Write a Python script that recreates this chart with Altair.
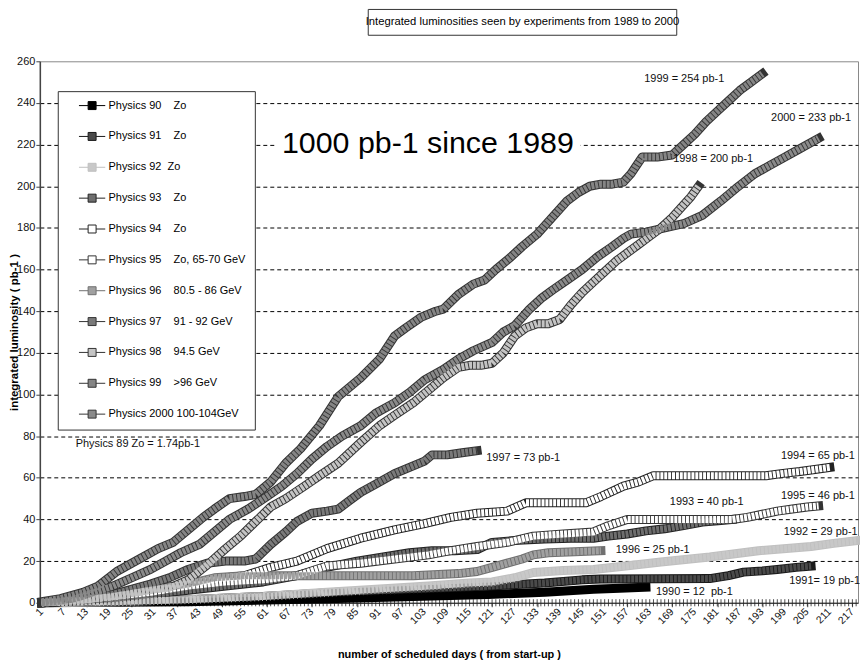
import altair as alt
import pandas as pd

FONT = "Liberation Sans, Arial, sans-serif"
NB = "\u00a0"

series_names = [
    "Physics 90" + NB * 4 + "Zo",
    "Physics 91" + NB * 4 + "Zo",
    "Physics 92" + NB * 2 + "Zo",
    "Physics 93" + NB * 4 + "Zo",
    "Physics 94" + NB * 4 + "Zo",
    "Physics 95" + NB * 4 + "Zo, 65-70 GeV",
    "Physics 96" + NB * 4 + "80.5 - 86 GeV",
    "Physics 97" + NB * 4 + "91 - 92 GeV",
    "Physics 98" + NB * 4 + "94.5 GeV",
    "Physics 99" + NB * 4 + ">96 GeV",
    "Physics 2000 100-104GeV",
]
fill_colors = ["#000000", "#4a4a4a", "#c8c8c8", "#6e6e6e", "#ffffff", "#ffffff",
               "#a0a0a0", "#7a7a7a", "#c4c4c4", "#858585", "#8a8a8a"]
edge_colors = ["#000000", "#1a1a1a", "#c0c0c0", "#222222", "#222222", "#333333",
               "#707070", "#333333", "#333333", "#333333", "#333333"]

d1990 = [1, 40, 80, 100, 120, 135, 148, 155, 162]
v1990 = [0, 0.5, 2, 3, 4, 5, 6.5, 7, 7.5]
d1991 = [1, 20, 40, 60, 80, 100, 120, 135, 145, 150, 165, 179, 184, 188, 193, 197, 202, 206]
v1991 = [0, 0.5, 1.5, 3, 5, 6.5, 8, 9.5, 11, 11.4, 11.5, 11.6, 13, 14.7, 15.3, 16, 17, 17.6]
d1992 = [1, 20, 40, 60, 77, 90, 104, 115, 121, 127, 132, 140, 148, 156, 166, 179, 192, 206, 212, 218]
v1992 = [0, 0.5, 1.5, 3, 5, 6.5, 8, 9.5, 10, 12, 14.5, 15.5, 16, 17.5, 19.6, 22, 25, 27, 28.5, 29.8]
d1993 = [1, 10, 20, 30, 40, 50, 60, 69, 77, 85, 92, 99, 105, 111, 117, 121, 128, 135, 142, 148,
         152, 157, 162, 167, 172, 177, 182, 185]
v1993 = [0, 1, 2, 4, 6, 8, 10, 13, 17, 20, 22, 24, 25, 25, 25.5, 29, 30, 30.6, 31, 31,
         32, 33, 34.5, 35.5, 37, 38.7, 39.5, 40]
d1994 = [1, 10, 20, 30, 40, 50, 55, 62, 69, 77, 86, 95, 103, 110, 117, 125, 130, 138, 146, 150,
         156, 160, 164, 170, 180, 190, 194, 198, 203, 207, 211]
v1994 = [0, 1, 3, 6, 9, 12, 13, 17, 20, 26, 31, 35, 38, 41, 43, 44, 48, 48, 48, 51,
         56, 58, 61, 61, 61, 61, 61, 62, 63, 64, 65]
d1995 = [1, 10, 20, 30, 40, 50, 60, 69, 77, 86, 95, 104, 110, 117, 125, 132, 140, 148, 152, 157,
         165, 175, 185, 189, 193, 197, 201, 205, 208]
v1995 = [0, 1, 3, 5, 8, 10, 11, 13, 17.7, 19, 21, 23, 25, 27, 29, 32, 33, 34, 37, 40,
         40, 40, 40, 41, 42.5, 44, 45, 46, 46.5]
d1996 = [1, 10, 20, 30, 40, 47, 55, 65, 77, 90, 100, 112, 117, 121, 125, 129, 132, 136, 143, 150]
v1996 = [0, 1, 3, 6, 9, 12, 13, 13, 13, 13, 13, 14, 15, 17, 19, 21, 23, 24, 24.5, 25]
d1997 = [1, 10, 20, 30, 35, 40, 45, 50, 55, 58, 62, 66, 69, 73, 77, 80, 83, 86, 90, 95, 99,
         103, 105, 109, 113, 117]
v1997 = [0, 1, 4, 9, 12, 16, 19, 20, 20, 21, 28, 34, 39, 43, 44, 45, 49, 53, 57, 62, 65,
         68, 71, 71, 72, 73]
d1998 = [1, 10, 20, 30, 35, 40, 45, 50, 54, 58, 62, 66, 71, 75, 80, 86, 91, 95, 100, 104, 108,
         112, 115, 118, 121, 124, 127, 130, 133, 136, 139, 142, 145, 148, 151, 154, 157, 160,
         163, 166, 169, 172, 174, 176]
v1998 = [0, 1, 3, 6, 7, 11, 18, 26, 32, 39, 46, 50, 56, 61, 67, 77, 85, 90, 96, 102, 108,
         113, 114, 114, 115, 120, 128, 132, 134, 134, 136, 143, 149, 154, 159, 164, 168, 172,
         176, 180, 185, 191, 195, 200]
d1999 = [1, 6, 12, 16, 21, 27, 32, 36, 40, 44, 47, 51, 55, 58, 62, 66, 70, 75, 80, 86, 91, 95,
         98, 102, 106, 108, 112, 116, 119, 122, 126, 129, 133, 137, 141, 144, 147, 150, 153,
         156, 158, 161, 165, 169, 172, 175, 178, 181, 184, 187, 190, 193]
v1999 = [0.5, 2, 5, 8, 15, 21, 26, 29, 35, 41, 45, 50, 51, 52, 58, 67, 74, 85, 99, 108, 117, 128,
         132, 137, 140, 141, 148, 153, 155, 160, 166, 171, 177, 185, 193, 197, 200, 201, 201,
         202, 206, 214, 214, 215, 220, 225, 231, 236, 241, 246, 250, 254]
d2000 = [1, 5, 10, 15, 20, 25, 30, 34, 38, 43, 47, 51, 56, 61, 65, 69, 73, 77, 81, 86, 90, 95,
         99, 103, 108, 112, 116, 121, 124, 127, 131, 134, 137, 141, 145, 149, 153, 156, 158,
         162, 167, 172, 177, 182, 186, 191, 195, 199, 203, 208]
v2000 = [0, 0.5, 2, 5, 8, 12, 16, 20, 24, 28, 34, 40, 45, 51, 56, 62, 69, 75, 80, 85, 91, 96,
         101, 107, 112, 117, 121, 125, 130, 133, 141, 146, 150, 155, 160, 166, 171, 175, 177,
         178, 180, 182, 186, 193, 199, 206, 210, 214, 218, 223]

series_days = [d1990, d1991, d1992, d1993, d1994, d1995, d1996, d1997, d1998, d1999, d2000]
series_vals = [v1990, v1991, v1992, v1993, v1994, v1995, v1996, v1997, v1998, v1999, v2000]

day_ticks = list(range(1, 219))          # one small tick per scheduled day
label_ticks = list(range(1, 218, 6))     # labelled days 1, 7, 13, ... 217
y_ticks = list(range(0, 261, 20))

# annotations (text, day, value)
lab_center = ["1999 = 254 pb-1", "2000 = 233 pb-1", "1998 = 200 pb-1", "1997 = 73 pb-1",
              "1994 = 65 pb-1", "1993 = 40 pb-1", "1995 = 46 pb-1", "1996 = 25 pb-1",
              "1991= 19 pb-1", "1990 = 12" + NB + " pb-1", "Physics 89 Zo = 1.74pb-1"]
lab_center_day = [172.2, 206, 179.9, 129.3, 207.8, 178.2, 207.8, 163.8, 209.6, 174.9, 26.6]
lab_center_val = [251.3, 232.8, 213.2, 69.6, 70.4, 48.4, 51.3, 25.5, 10.2, 5.1, 76]
lab_right = ["1992 = 29 pb-1"]
lab_right_day = [218.4]
lab_right_val = [33.8]

big_text = ["1000 pb-1 since 1989"]
big_day, big_val = [103.9], [220.2]
big_box_day, big_box_day2 = [63.3], [144.6]
big_box_val, big_box_val2 = [210], [231]

title_text = ["Integrated luminosities seen by experiments from 1989 to 2000"]
title_day, title_val = [129.1], [278.7]
title_box_day, title_box_day2 = [88.0], [170.2]
title_box_val, title_box_val2 = [272.5], [284.9]

rows = []
for i, (n, ds, vs) in enumerate(zip(series_names, series_days, series_vals)):
    for d, v in zip(ds, vs):
        rows.append({"series": n, "k": i, "day": d, "value": v,
                     "fillc": fill_colors[i], "edgec": edge_colors[i]})
df = pd.DataFrame(rows)

xscale = alt.Scale(domain=[0.5, 218.5], nice=False, zero=False)
yscale = alt.Scale(domain=[0, 260], nice=False, zero=False)

x_enc = alt.X("day:Q", scale=xscale, axis=alt.Axis(
    values=label_ticks, labels=False,
    tickSize=4, tickColor="#222", tickWidth=0.8,
    domainColor="#222", domainWidth=1, grid=False,
    title="number of scheduled days ( from start-up )",
    titleFont=FONT, titleFontSize=11, titleFontWeight="bold", titleColor="#000",
    titleBaseline="bottom", titleY=57,
))
y_enc = alt.Y("value:Q", scale=yscale, axis=alt.Axis(
    values=y_ticks, labelFontSize=11, labelFont=FONT, labelColor="#111", labelPadding=1,
    tickSize=4, tickColor="#444", domainColor="#444", domainWidth=1.5,
    grid=True, gridColor="#000", gridDash=[4, 3], gridWidth=1,
    gridOpacity={"condition": {"test": "datum.value >= 260 || datum.value <= 0", "value": 0}, "value": 1},
    title="integrated luminosity ( pb-1 )",
    titleFont=FONT, titleFontSize=11.5, titleFontWeight="bold", titleColor="#000",
    titleAngle=270, titleBaseline="middle", titleX=-25,
))

minor = alt.Chart(pd.DataFrame({"day": day_ticks})).mark_rule(color="#222", strokeWidth=0.8).encode(
    x=x_enc, y=alt.datum(1.7), y2=alt.datum(-1.7))

xlabels = alt.Chart(pd.DataFrame({"day": label_ticks, "t": [str(d) for d in label_ticks]})).mark_text(
    angle=315, align="right", baseline="middle", font=FONT, fontSize=10.5, color="#111"
).encode(x="day:Q", y=alt.datum(-3.6), text="t:N")

base = alt.Chart(df)
outline = base.mark_line(strokeWidth=9, strokeJoin="round", strokeCap="square").encode(
    x="day:Q", y=y_enc, color=alt.Color("edgec:N", scale=None),
    detail="k:N", order="day:Q")
inner = base.mark_line(strokeWidth=7, strokeJoin="round", strokeCap="butt",
                       strokeDash=[3, 0.9]).encode(
    x="day:Q", y="value:Q", color=alt.Color("fillc:N", scale=None),
    detail="k:N", order="day:Q")

SYMBOL = "M-3.3,0H-1M1,0H3.3M-1,-1H1V1H-1Z"
legend_layer = base.transform_filter("datum.k < 0").mark_point(
    shape="square", filled=True, size=55, strokeWidth=1, opacity=1).encode(
    x="day:Q", y="value:Q",
    fill=alt.Fill("series:N", scale=alt.Scale(domain=series_names, range=fill_colors),
                  sort=series_names,
                  legend=alt.Legend(
                      title=None, orient="none", legendX=18, legendY=30,
                      fillColor="white", strokeColor="#333", padding=9,
                      symbolType=SYMBOL, symbolSize=64, symbolStrokeWidth=1,
                      symbolStrokeColor="#333", symbolOffset=20,
                      labelOffset=11, labelFont=FONT, labelFontSize=11,
                      labelColor="#000", labelLimit=400, rowPadding=18)),
    stroke=alt.Stroke("series:N", scale=alt.Scale(domain=series_names, range=edge_colors),
                      legend=None),
)

ann_c = alt.Chart(pd.DataFrame({"t": lab_center, "day": lab_center_day, "value": lab_center_val})
                  ).mark_text(font=FONT, fontSize=11, color="#111", align="center", baseline="middle"
                  ).encode(x="day:Q", y="value:Q", text="t:N")
ann_r = alt.Chart(pd.DataFrame({"t": lab_right, "day": lab_right_day, "value": lab_right_val})
                  ).mark_text(font=FONT, fontSize=11, color="#111", align="right", baseline="middle"
                  ).encode(x="day:Q", y="value:Q", text="t:N")

big_box = alt.Chart(pd.DataFrame({"day": big_box_day, "day2": big_box_day2,
                                  "value": big_box_val, "value2": big_box_val2})
                    ).mark_rect(fill="white").encode(x="day:Q", x2="day2:Q", y="value:Q", y2="value2:Q")
big = alt.Chart(pd.DataFrame({"t": big_text, "day": big_day, "value": big_val})
                ).mark_text(font=FONT, fontSize=30.5, color="#000", align="center", baseline="middle"
                ).encode(x="day:Q", y="value:Q", text="t:N")

tbox = alt.Chart(pd.DataFrame({"day": title_box_day, "day2": title_box_day2,
                               "value": title_box_val, "value2": title_box_val2})
                 ).mark_rect(fill="white", stroke="#333", strokeWidth=1
                 ).encode(x="day:Q", x2="day2:Q", y="value:Q", y2="value2:Q")
ttext = alt.Chart(pd.DataFrame({"t": title_text, "day": title_day, "value": title_val})
                  ).mark_text(font=FONT, fontSize=11.3, color="#000", align="center", baseline="middle"
                  ).encode(x="day:Q", y="value:Q", text="t:N")

chart = alt.layer(minor, xlabels, big_box, outline, inner, legend_layer, ann_c, ann_r, big,
                  tbox, ttext).properties(
    width=822, height=544,
    autosize=alt.AutoSizeParams(type="none"),
    padding={"left": 32, "top": 52, "right": 2, "bottom": 62},
    background="white",
).configure_view(stroke="#888", strokeWidth=1)

chart.save("out.html", embed_options={"renderer": "svg", "actions": False})
